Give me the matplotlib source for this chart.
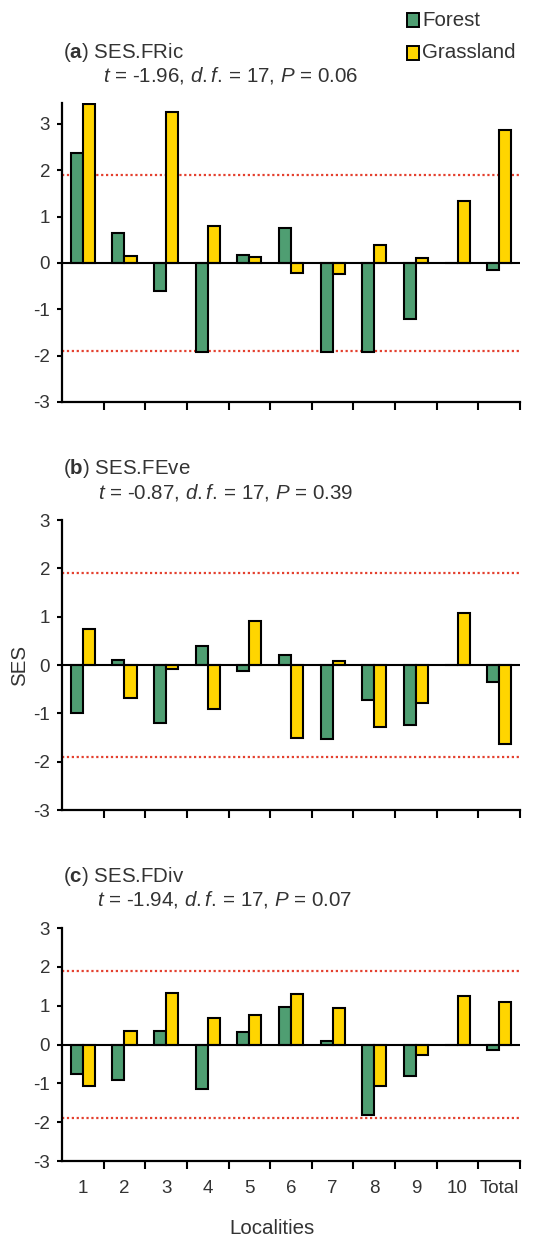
import matplotlib
matplotlib.use("Agg")
import matplotlib.pyplot as plt
from matplotlib.patches import Rectangle
import numpy as np

plt.rcParams['font.family'] = ['Liberation Sans', 'DejaVu Sans']
plt.rcParams['mathtext.fontset'] = 'custom'
plt.rcParams['mathtext.rm'] = 'Liberation Sans'
plt.rcParams['mathtext.it'] = 'Liberation Sans:italic'
plt.rcParams['mathtext.bf'] = 'Liberation Sans:bold'

localities = ['1', '2', '3', '4', '5', '6', '7', '8', '9', '10', 'Total']

fric_forest = [2.38, 0.65, -0.61, -1.92, 0.18, 0.76, -1.92, -1.92, -1.20, 0.0, -0.16]
fric_grass = [3.43, 0.16, 3.26, 0.79, 0.12, -0.22, -0.24, 0.38, 0.11, 1.33, 2.86]

feve_forest = [-1.00, 0.10, -1.19, 0.39, -0.12, 0.20, -1.54, -0.72, -1.24, 0.0, -0.35]
feve_grass = [0.74, -0.68, -0.08, -0.90, 0.92, -1.50, 0.08, -1.29, -0.78, 1.08, -1.64]

fdiv_forest = [-0.75, -0.92, 0.34, -1.15, 0.32, 0.96, 0.10, -1.82, -0.80, 0.0, -0.13]
fdiv_grass = [-1.08, 0.34, 1.33, 0.68, 0.76, 1.29, 0.94, -1.08, -0.28, 1.26, 1.10]

threshold = 1.9
panel_letters = ['a', 'b', 'c']
panel_names = ['SES.FRic', 'SES.FEve', 'SES.FDiv']
t_vals = ['-1.96', '-0.87', '-1.94']
df_vals = ['17', '17', '17']
p_vals = ['0.06', '0.39', '0.07']
ylims_top = [3.45, 3.0, 3.0]

GREEN = '#4f9e72'
YELLOW = '#ffd500'
RED = '#e4402e'
TXT = '#333333'

W, H = 549, 1239
fig = plt.figure(figsize=(W / 100, H / 100), dpi=100)

def fx(x):
    return x / W

def fy(y):
    return 1 - y / H

# axes rects in pixels: (top, bottom)
rects = [(103, 402), (520, 810), (928, 1161)]
title_pos = [((63, 53), (103, 75)), ((63, 469), (98, 493)), ((63, 877), (97, 900))]

x = np.arange(len(localities))
bw = 0.29
data = [(fric_forest, fric_grass), (feve_forest, feve_grass), (fdiv_forest, fdiv_grass)]

for i, (top, bot) in enumerate(rects):
    ax = fig.add_axes([fx(62), fy(bot), fx(520) - fx(62), (bot - top) / H])
    f, g = data[i]
    ax.bar(x - bw / 2, f, width=bw, color=GREEN, edgecolor='black', linewidth=1.5, zorder=3)
    ax.bar(x + bw / 2, g, width=bw, color=YELLOW, edgecolor='black', linewidth=1.5, zorder=3)
    ax.axhline(0, color='black', lw=1.5, zorder=4)
    ax.axhline(threshold, color=RED, lw=1.6, ls=(0, (1, 1.2)), zorder=2)
    ax.axhline(-threshold, color=RED, lw=1.6, ls=(0, (1, 1.2)), zorder=2)
    ax.set_xlim(-0.5, len(localities) - 0.5)
    ax.set_ylim(-3, ylims_top[i])
    ax.set_yticks([-3, -2, -1, 0, 1, 2, 3])
    ax.set_yticklabels(['-3', '-2', '-1', '0', '1', '2', '3'])
    ax.tick_params(axis='y', direction='out', length=3.6, width=1.5, pad=5,
                   labelsize=13.5, labelcolor=TXT, color='black')
    ax.set_xticks(np.arange(len(localities)) + 0.5)
    ax.set_xticklabels([])
    ax.tick_params(axis='x', which='major', direction='out', length=6, width=1.5, color='black')
    ax.set_xticks(x, minor=True)
    if i == 2:
        ax.set_xticklabels(localities, minor=True)
    ax.tick_params(axis='x', which='minor', length=0, pad=14, labelsize=13.5, labelcolor=TXT)
    for s in ['top', 'right']:
        ax.spines[s].set_visible(False)
    for s in ['left', 'bottom']:
        ax.spines[s].set_linewidth(1.6)
    ax.patch.set_visible(False)

    (x1, y1), (x2, y2) = title_pos[i]
    fig.text(fx(x1), fy(y1), r'($\mathbf{' + panel_letters[i] + r'}$) ' + panel_names[i],
             fontsize=14.8, color=TXT, ha='left', va='center')
    fig.text(fx(x2), fy(y2),
             r'$\mathit{t}$ = ' + t_vals[i] + r', $\mathit{d.f.}\!$ = $\mathit{' + df_vals[i]
             + r'}$, $\mathit{P}$ = ' + p_vals[i],
             fontsize=14.8, color=TXT, ha='left', va='center')

# legend
for (label, col, yc) in [('Forest', GREEN, 20), ('Grassland', YELLOW, 53)]:
    fig.add_artist(Rectangle((fx(407), fy(yc + 7)), fx(419) - fx(407), 14 / H,
                             transform=fig.transFigure, facecolor=col,
                             edgecolor='black', linewidth=1.4))
    fig.text(fx(422), fy(yc), label, fontsize=14.8, color=TXT, ha='left', va='center')

fig.text(fx(20), fy(665), 'SES', rotation=90, fontsize=14.8, color=TXT, ha='center', va='center')
fig.text(fx(272), fy(1228), 'Localities', fontsize=14.8, color=TXT, ha='center', va='center')

fig.savefig('out.png', dpi=100)
